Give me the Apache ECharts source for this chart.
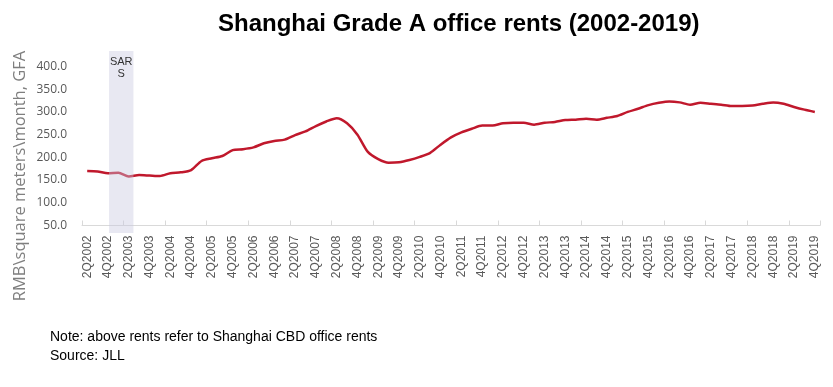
<!DOCTYPE html>
<html>
<head>
<meta charset="utf-8">
<script src="https://cdn.jsdelivr.net/npm/echarts@6/dist/echarts.min.js"></script>
<style>html,body{margin:0;padding:0;background:#fff;}#c{width:833px;height:387px;}</style>
</head>
<body>
<div id="c"></div>
<script>
const quarters = (function(){const q=[];for(let y=2002;y<=2019;y++){for(let k=1;k<=4;k++){if(y===2002&&k===1)continue;q.push(k+'Q'+y);}}return q;})();
const rents = [170,169,165,166,158,161,160,159,165,167,172,192,198,203,216,218,222,231,236,239,249,257,269,279,286,275,250,212,196,188,189,194,201,210,228,244,255,263,270,270,275,276,276,272,276,278,282,283,285,283,287,291,300,307,315,320,323,321,316,320,318,316,313,313,314,318,321,318,311,305,300];
const yTicks = [50,100,150,200,250,300,350,400];
const sarsPeriod = ['4Q2002','2Q2003'];
const sarsLabel = 'SAR\nS';
const titleText = 'Shanghai Grade A office rents (2002-2019)';
const yAxisTitle = 'RMB\\square meters\\month, GFA';
const noteLines = ['Note: above rents refer to Shanghai CBD office rents','Source: JLL'];

function toIndex(v){ return typeof v === 'number' ? v : quarters.indexOf(v); }

const chart = echarts.init(document.getElementById('c'));
const option = {
  animation:false,
  backgroundColor:'#ffffff',
  title:[
    {text:titleText,left:213,top:7,textStyle:{fontFamily:'Liberation Sans',fontWeight:'bold',fontSize:24,color:'#000'}},
    {text:noteLines.join('\n'),left:45,top:323,textStyle:{fontFamily:'Liberation Sans',fontWeight:'normal',fontSize:14,color:'#000',lineHeight:19}}
  ],
  graphic:[
    {type:'text',x:20,y:176,rotation:Math.PI/2,style:{text:yAxisTitle,fill:'#7f7f7f',font:'16.5px "Open Sans"',align:'center',verticalAlign:'middle'}}
  ],
  grid:{left:82,right:13,top:66.5,bottom:161.5},
  xAxis:{
    type:'category',data:quarters,boundaryGap:true,
    axisLine:{lineStyle:{color:'#d9d9d9',width:1}},
    axisTick:{show:true,inside:true,length:5,interval:3,alignWithLabel:false,lineStyle:{color:'#d9d9d9'}},
    axisLabel:{interval:1,rotate:90,margin:10,color:'#595959',fontFamily:'Liberation Sans',fontSize:12},
    splitLine:{show:false}
  },
  yAxis:{
    type:'value',min:yTicks[0],max:yTicks[yTicks.length-1],interval:yTicks[1]-yTicks[0],
    axisLine:{show:false},axisTick:{show:false},splitLine:{show:false},
    axisLabel:{margin:15,color:'#595959',fontFamily:'Open Sans',fontSize:12,formatter:v=>v.toFixed(1)}
  },
  series:[
    {type:'line',data:rents,smooth:0.25,symbol:'none',z:2,lineStyle:{color:'#c0182c',width:2.5}},
    {type:'custom',z:5,silent:true,clip:false,data:[[sarsPeriod[0],sarsPeriod[1]]],
      encode:{x:[0,1]},
      renderItem:function(params,api){
        const i0 = toIndex(api.value(0));
        const i1 = toIndex(api.value(1));
        const bw = api.size([1,0])[0];
        const p0 = api.coord([i0,434]);
        const p1 = api.coord([i1,33.5]);
        const x0 = p0[0]+bw*0.1, x1 = p1[0]+bw*0.45;
        return {type:'group',children:[
          {type:'rect',shape:{x:x0,y:p0[1],width:x1-x0,height:p1[1]-p0[1]},style:{fill:'rgba(200,200,225,0.42)'}},
          {type:'text',style:{text:sarsLabel,x:(x0+x1)/2,y:p0[1]+5,align:'center',verticalAlign:'top',fill:'#333',font:'11px "Liberation Sans"',lineHeight:12}}
        ]};
      }
    }
  ]
};
chart.setOption(option);
</script>
</body>
</html>
